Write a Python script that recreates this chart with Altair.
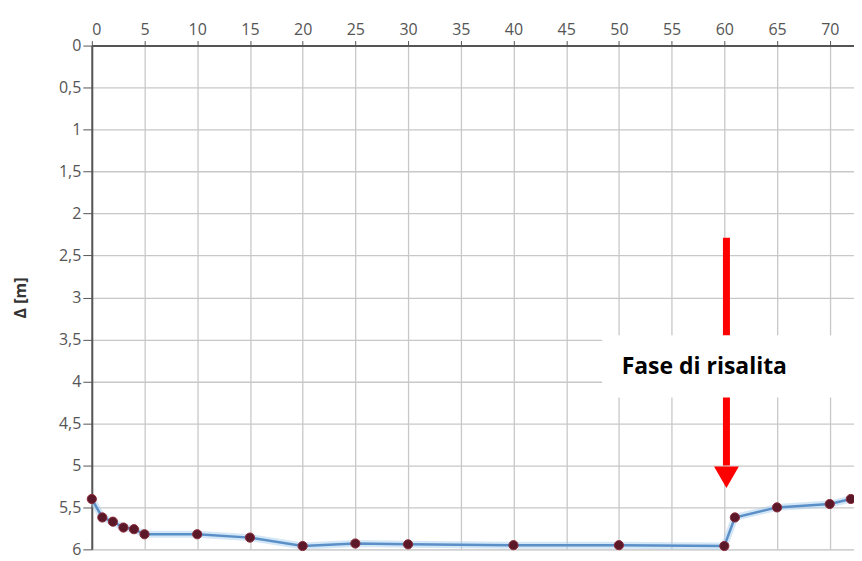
import altair as alt
import pandas as pd

# Measured data
t_min = [0, 1, 2, 3, 4, 5, 10, 15, 20, 25, 30, 40, 50, 60, 61, 65, 70, 72]
delta_m = [5.40, 5.62, 5.67, 5.74, 5.76, 5.82, 5.82, 5.86, 5.96, 5.93, 5.94, 5.95, 5.95, 5.96, 5.62, 5.50, 5.46, 5.40]

x_ticks = list(range(0, 75, 5))
y_ticks = [i * 0.5 for i in range(13)]

# Annotation (data coordinates)
ann_label = ["Fase di risalita"]
ann_x = [60.2]
ann_y_top = [2.29]
ann_y_bot = [5.0]
ann_head_y = [5.14]
box_x = [48.4]
box_x2 = [72.3]
box_y = [3.45]
box_y2 = [4.19]
text_x = [58.1]
text_y = [3.83]

df = pd.DataFrame({"t": t_min, "d": delta_m})
ann = pd.DataFrame({
    "label": ann_label, "x": ann_x, "y1": ann_y_top, "y2": ann_y_bot, "hy": ann_head_y,
    "bx": box_x, "bx2": box_x2, "by": box_y, "by2": box_y2, "tx": text_x, "ty": text_y,
})

xscale = alt.Scale(domain=[0, 72.3], nice=False, zero=False)
yscale = alt.Scale(domain=[0, 6], reverse=True, nice=False)

x_enc = alt.X("t:Q", scale=xscale, axis=alt.Axis(
    orient="top", values=x_ticks, title=None, labelFont="Open Sans", labelFontSize=16,
    labelColor="#555", tickColor="#555", tickSize=5, domainColor="#555", domainWidth=2,
    gridColor="#c8c8c8", gridWidth=1.3, labelPadding=3))
y_enc = alt.Y("d:Q", scale=yscale, axis=alt.Axis(
    values=y_ticks, title="Δ [m]",
    labelExpr="replace(format(datum.value, '~g'), '.', ',')",
    labelFont="Open Sans", labelFontSize=16, labelColor="#555", tickColor="#555",
    tickSize=9, domainColor="#555", domainWidth=2, gridColor="#c8c8c8", gridWidth=1.3,
    titleFont="Open Sans", titleFontSize=16, titleFontWeight="bold", titleColor="#333",
    titlePadding=30, labelPadding=2))

glow = alt.Chart(df).mark_line(color="#a9d0f0", strokeWidth=7, opacity=0.5).encode(x=x_enc, y=y_enc)
line = alt.Chart(df).mark_line(color="#5b8fc7", strokeWidth=2.5).encode(x="t:Q", y="d:Q")
pts = alt.Chart(df).mark_point(filled=True, size=85, color="#5a1828", stroke="#8b2a3a",
                               strokeWidth=1, opacity=1).encode(x="t:Q", y="d:Q")

shaft = alt.Chart(ann).mark_rule(color="#ff0000", strokeWidth=7).encode(
    x=alt.X("x:Q"), y=alt.Y("y1:Q"), y2="y2:Q")
head = alt.Chart(ann).mark_point(shape="triangle-down", filled=True, size=620,
                                 color="#ff0000", opacity=1).encode(x="x:Q", y="hy:Q")
box = alt.Chart(ann).mark_rect(color="white").encode(
    x="bx:Q", x2="bx2:Q", y="by:Q", y2="by2:Q")
txt = alt.Chart(ann).mark_text(font="Open Sans", fontSize=23, fontWeight="bold",
                               color="black", align="center", baseline="middle").encode(
    x="tx:Q", y="ty:Q", text="label:N")

chart = alt.layer(glow, line, pts, shaft, box, txt, head).properties(
    width=764, height=505,
    autosize=alt.AutoSizeParams(type="none"),
    padding={"left": 84, "top": 37, "right": 0, "bottom": 10},
).configure_view(stroke=None).configure(background="white")

chart.save("out.html", embed_options={"renderer": "svg", "actions": False})
